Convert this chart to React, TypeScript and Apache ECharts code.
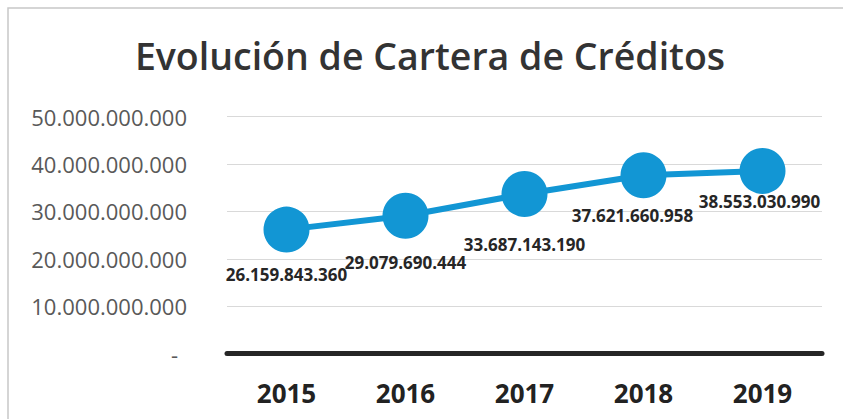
import React, { useEffect, useRef } from "react";
import * as echarts from "echarts";

const titleText = "Evolución de Cartera de Créditos";
const years = ["2015", "2016", "2017", "2018", "2019"];
const cartera = [26159843360, 29079690444, 33687143190, 37621660958, 38553030990];
const yTicks = [0, 10000000000, 20000000000, 30000000000, 40000000000, 50000000000];
const labelOffsets = [
  [0, 45],
  [0, 47],
  [0, 51],
  [-11, 40],
  [-3, 31],
];

const fmt = (v: number) => {
  if (v === 0) return "{d|-}";
  return Math.round(v)
    .toString()
    .replace(/\B(?=(\d{3})+(?!\d))/g, ".");
};

export default function App() {
  const ref = useRef<HTMLDivElement>(null);
  useEffect(() => {
    document.body.style.margin = "0";
    const chart = echarts.init(ref.current!, null, { renderer: "svg" });
    const font = "'Open Sans', 'Noto Sans', sans-serif";
    chart.setOption({
      animation: false,
      backgroundColor: "#ffffff",
      textStyle: { fontFamily: font },
      title: {
        text: titleText,
        left: 425,
        top: 31,
        textAlign: "center",
        textStyle: {
          fontFamily: font,
          fontSize: 37.5,
          fontWeight: 600,
          color: "#333333",
        },
      },
      graphic: [
        {
          type: "rect",
          shape: { x: 8, y: 8, width: 900, height: 500 },
          style: { fill: "none", stroke: "#c8c8c8", lineWidth: 1.5 },
          silent: true,
        },
      ],
      grid: { left: 227, right: 21, top: 116.7, bottom: 65.5, containLabel: false },
      xAxis: {
        type: "category",
        data: years,
        boundaryGap: true,
        axisLine: { show: true, lineStyle: { color: "#262626", width: 5 } },
        axisTick: { show: false },
        axisLabel: {
          margin: 26,
          fontFamily: font,
          fontSize: 26,
          fontWeight: "bold",
          color: "#222222",
        },
      },
      yAxis: {
        type: "value",
        min: yTicks[0],
        max: yTicks[yTicks.length - 1],
        interval: yTicks[1] - yTicks[0],
        axisLine: { show: false },
        axisTick: { show: false },
        splitLine: { lineStyle: { color: "#d9d9d9", width: 1 } },
        axisLabel: {
          margin: 40,
          fontFamily: font,
          fontSize: 22,
          color: "#595959",
          formatter: (v: number) => fmt(v),
          rich: { d: { fontFamily: font, fontSize: 22, color: "#595959", padding: [0, 9, 0, 0] } },
        },
      },
      series: [
        {
          type: "line",
          data: cartera.map((v, i) => ({
            value: v,
            label: { offset: labelOffsets[i] },
          })),
          symbol: "circle",
          symbolSize: 46,
          lineStyle: { color: "#1296d4", width: 6 },
          itemStyle: { color: "#1296d4" },
          label: {
            show: true,
            position: "inside",
            formatter: (p: any) => fmt(p.value),
            fontFamily: font,
            fontSize: 17,
            fontWeight: "bold",
            color: "#262626",
          },
          z: 3,
        },
      ],
    });
    return () => chart.dispose();
  }, []);
  return <div ref={ref} style={{ width: 843, height: 419 }} />;
}
